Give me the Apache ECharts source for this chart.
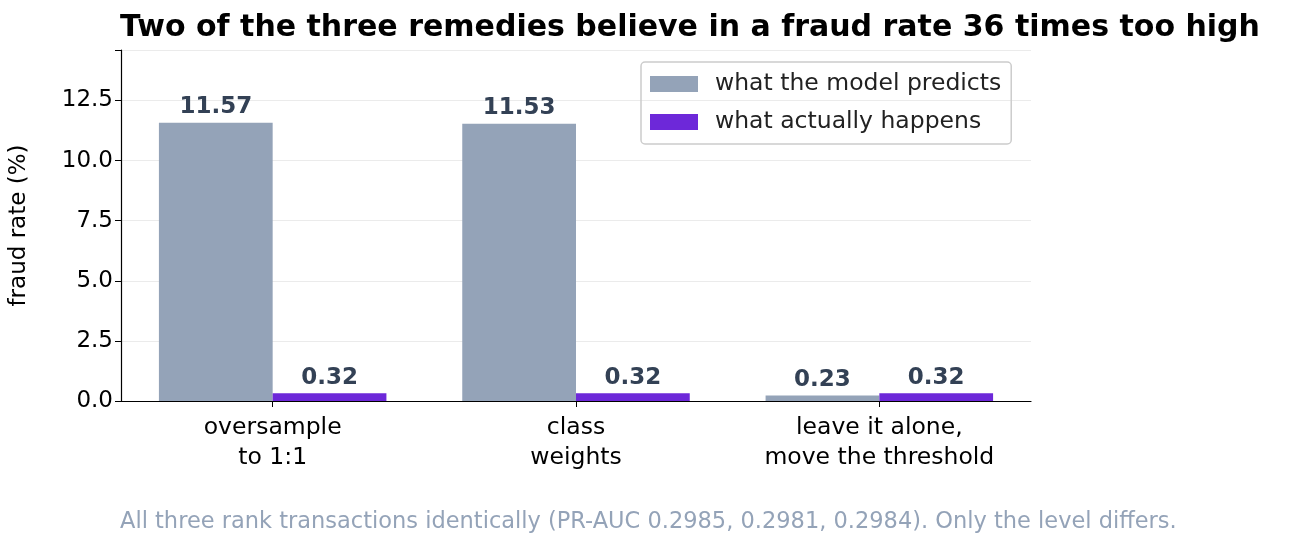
<!DOCTYPE html>
<html><head><meta charset="utf-8">
<script src="https://cdn.jsdelivr.net/npm/echarts@6/dist/echarts.min.js"></script>
<style>html,body{margin:0;padding:0;background:#fff}#c{width:1313px;height:555px}</style>
</head><body><div id="c"></div>
<script>
const categories = ["oversample\nto 1:1", "class\nweights", "leave it alone,\nmove the threshold"];
const predicted = [11.57, 11.53, 0.23];
const actual = [0.32, 0.32, 0.32];
const yTicks = [0, 2.5, 5, 7.5, 10, 12.5];
const font = "DejaVu Sans";
const chart = echarts.init(document.getElementById('c'));
const lbl = {show:true, position:'top', distance:4, color:'#334155', fontWeight:'bold', fontSize:23, fontFamily:font, formatter:p=>p.value.toFixed(2)};
chart.setOption({
  animation:false,
  textStyle:{fontFamily:font},
  title:[{text:"Two of the three remedies believe in a fraud rate 36 times too high", left:115, top:8, textStyle:{fontSize:30, fontWeight:'bold', color:'#000', fontFamily:font}},
         {text:"All three rank transactions identically (PR-AUC 0.2985, 0.2981, 0.2984). Only the level differs.", left:115, top:506, textStyle:{fontSize:22.5, fontWeight:'normal', color:'#94a3b8', fontFamily:font}}],
  legend:{orient:'vertical', left:641, top:62, itemWidth:48, itemHeight:16, itemGap:14, padding:[10,10,10,9], borderColor:'#ccc', borderWidth:1.5, borderRadius:4,
    textStyle:{fontSize:23.5, color:'#222', fontFamily:font, padding:[0,0,0,12]}, icon:'rect',
    data:['what the model predicts','what actually happens']},
  grid:{left:119, right:282, top:50, bottom:154, containLabel:false},
  xAxis:{type:'category', data:categories, axisTick:{show:true, alignWithLabel:true, length:6, lineStyle:{color:'#000'}}, axisLine:{lineStyle:{color:'#000', width:1.2}},
    axisLabel:{fontSize:23.5, color:'#000', lineHeight:30, margin:12, fontFamily:font}},
  yAxis:{type:'value', min:0, max:14.6, interval:2.5, name:'fraud rate (%)', nameLocation:'middle', nameGap:90, nameTextStyle:{fontSize:23, color:'#000', fontFamily:font},
    axisLine:{show:true, lineStyle:{color:'#000', width:1.2}}, axisTick:{show:true, length:6, lineStyle:{color:'#000'}},
    axisLabel:{fontSize:23, color:'#000', fontFamily:font, formatter:v=>yTicks.includes(v)?v.toFixed(1):''},
    splitLine:{lineStyle:{color:'#ebebeb'}}},
  series:[
    {name:'what the model predicts', type:'bar', data:predicted, barGap:'0%', barCategoryGap:'25%', itemStyle:{color:'#94a3b8'}, label:lbl},
    {name:'what actually happens', type:'bar', data:actual, itemStyle:{color:'#6d28d9'}, label:lbl}
  ]
});
</script></body></html>
